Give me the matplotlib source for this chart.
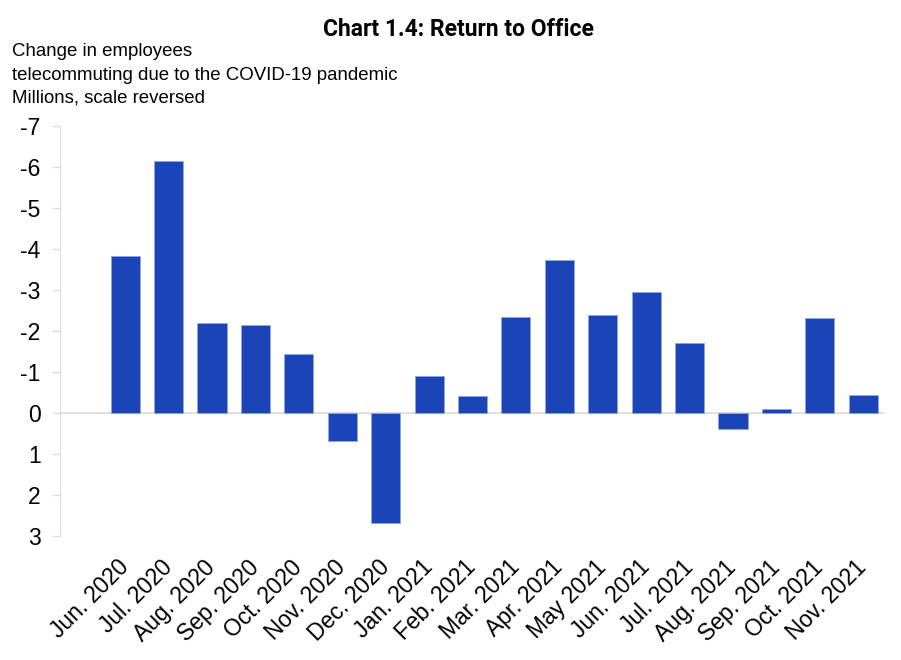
import matplotlib
matplotlib.use("Agg")
import matplotlib.pyplot as plt

months = ["Jun. 2020", "Jul. 2020", "Aug. 2020", "Sep. 2020", "Oct. 2020", "Nov. 2020",
          "Dec. 2020", "Jan. 2021", "Feb. 2021", "Mar. 2021", "Apr. 2021", "May 2021",
          "Jun. 2021", "Jul. 2021", "Aug. 2021", "Sep. 2021", "Oct. 2021", "Nov. 2021"]
change = [-3.84, -6.15, -2.2, -2.15, -1.44, 0.68, 2.69, -0.9, -0.42, -2.35, -3.74,
          -2.4, -2.96, -1.71, 0.39, -0.1, -2.32, -0.44]
yticks = [-7, -6, -5, -4, -3, -2, -1, 0, 1, 2, 3]

plt.rcParams['font.family'] = ['Liberation Sans', 'DejaVu Sans']
plt.rcParams['axes.unicode_minus'] = False

fig = plt.figure(figsize=(9.01, 6.6), dpi=100)
ax = fig.add_axes([60/901, 1-536/660, 825/901, 410/660])

x = list(range(len(months)))
ax.bar(x, change, width=0.67, color='#1a44b8', edgecolor='#8fa6e6', linewidth=0.6, zorder=3)
ax.axhline(0, color='#dcdcdc', linewidth=1.2, zorder=2)

ax.set_ylim(3, -7)
ax.set_xlim(-1.5, 17.5)
ax.set_yticks(yticks)
ax.set_yticklabels([str(v) for v in yticks], fontsize=16.5)
ax.set_xticks(x)
ax.set_xticklabels(months, rotation=45, ha='right', va='center', rotation_mode='anchor', fontsize=16.5)
ax.tick_params(axis='x', length=0, pad=20)
ax.tick_params(axis='y', length=6, color='#dcdcdc', width=1, pad=8)
for s in ['top', 'right', 'bottom']:
    ax.spines[s].set_visible(False)
ax.spines['left'].set_color('#dcdcdc')

fig.text(458/901, 1-30/660, "Chart 1.4: Return to Office", ha='center', va='center',
         fontsize=16.5, fontweight='bold', family=['Roboto', 'DejaVu Sans'])
fig.text(12/901, 1-52/660, "Change in employees", ha='left', va='center', fontsize=13.4)
fig.text(12/901, 1-75/660, "telecommuting due to the COVID-19 pandemic", ha='left', va='center', fontsize=13.4)
fig.text(12/901, 1-98/660, "Millions, scale reversed", ha='left', va='center', fontsize=13.4)

fig.savefig("out.png", dpi=100)
